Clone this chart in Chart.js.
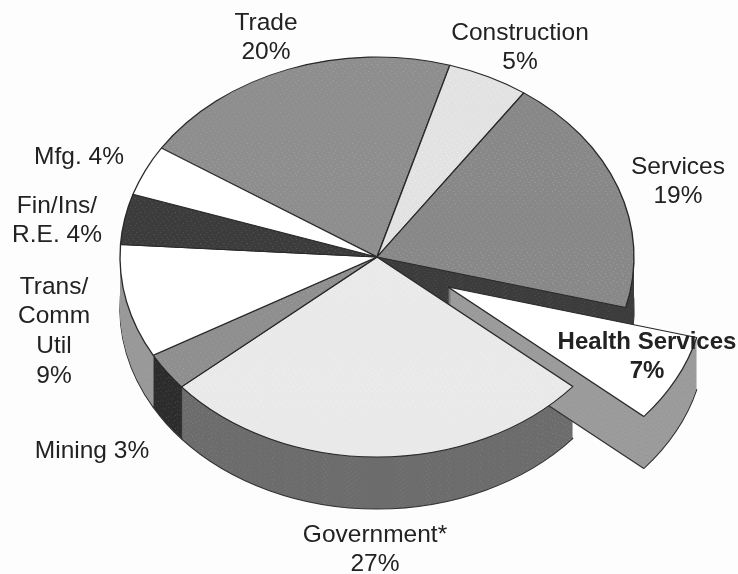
<!DOCTYPE html>
<html>
<head>
<meta charset="utf-8">
<title>Employment by sector</title>
<script src="https://cdn.jsdelivr.net/npm/chart.js@4"></script>
<style>
  html, body { margin: 0; padding: 0; background: #fdfdfd; }
  #pie { display: block; filter: blur(0.6px); }
</style>
</head>
<body>
<canvas id="pie" width="738" height="574"></canvas>
<script>
const categories = ['Trade', 'Construction', 'Services', 'Health Services', 'Government*', 'Mining', 'Trans/Comm/Util', 'Fin/Ins/R.E.', 'Mfg.'];
const values = [20, 5, 19, 7, 27, 3, 9, 4, 4];
const exploded = [false, false, false, true, false, false, false, false, false];

const topColors = ['#8e8e8e', '#e2e2e2', '#888888', '#ffffff', '#e9e9e9', '#8f8f8f', '#ffffff', '#3c3c3c', '#ffffff'];
const wallColors = ['#6a6a6a', '#a8a8a8', '#3c3c3c', '#9c9c9c', '#6c6c6c', '#2c2c2c', '#9a9a9a', '#222222', '#999999'];

const labelLines = [
  ['Trade', '20%'],
  ['Construction', '5%'],
  ['Services', '19%'],
  ['Health Services', '7%'],
  ['Government*', '27%'],
  ['Mining 3%'],
  ['Trans/', 'Comm', 'Util', '9%'],
  ['Fin/Ins/', 'R.E. 4%'],
  ['Mfg. 4%']
];
const labelX = [266, 520, 678, 647, 375, 92, 54, 57, 79];
const labelY = [23, 33, 167, 342, 535, 451, 287, 206, 157];

// the flattened pie on the page
const centerX = 377, centerY = 257;
const radiusX = 257, radiusY = 200;
const depth = 52;
const explodeX = 71, explodeY = 30;

// scanned halftone look, light dots on a flat colour
function speckle(color, dot) {
  const tile = document.createElement('canvas');
  tile.width = tile.height = 13;
  const c = tile.getContext('2d');
  c.fillStyle = color;
  c.fillRect(0, 0, 13, 13);
  c.fillStyle = dot;
  [[1, 2], [6, 1], [10, 4], [3, 7], [8, 8], [12, 11], [5, 11]].forEach(p => c.fillRect(p[0], p[1], 1, 1));
  return c.createPattern(tile, 'repeat');
}

const fills = topColors.map((color, i) => {
  if (color === '#ffffff') return color;
  return speckle(color, i === 7 ? '#6a6a6a' : (color > '#c' ? '#f4f4f4' : '#a6a6a6'));
});
const walls = wallColors.map(color => speckle(color, color < '#5' ? '#5c5c5c' : '#8e8e8e'));

const pie3d = {
  id: 'pie3d',
  beforeDatasetsDraw(chart) {
    const ctx = chart.ctx;
    const arcs = chart.getDatasetMeta(0).data;
    const r = arcs[0].outerRadius;

    const paint = (arc, i, options, shift) => {
      const ghost = Object.create(arc);
      ghost.options = { ...arc.options, ...options };
      ctx.save();
      ctx.translate(centerX + (exploded[i] ? explodeX : 0), centerY + shift + (exploded[i] ? explodeY : 0));
      ctx.scale(radiusX / r, radiusY / r);
      ctx.translate(-arc.x, -arc.y);
      ghost.draw(ctx);
      ctx.restore();
    };

    const drawWalls = (group) => {
      for (let d = depth; d > 0; d--) {
        arcs.forEach((arc, i) => {
          if (exploded[i] !== group) return;
          // slide the dots along each layer or they line up as vertical stripes
          walls[i].setTransform(new DOMMatrix().translate(d * 5, 0));
          const edge = d === depth ? { borderWidth: 1.5, borderColor: '#333' } : { borderWidth: 0 };
          paint(arc, i, { backgroundColor: walls[i], ...edge }, d);
        });
      }
    };

    drawWalls(false);
    drawWalls(true);
    arcs.forEach((arc, i) => paint(arc, i, {}, 0));
    return false;
  },
  afterDraw(chart) {
    const ctx = chart.ctx;
    ctx.save();
    ctx.textAlign = 'center';
    ctx.textBaseline = 'middle';
    ctx.fillStyle = '#222';
    labelLines.forEach((lines, i) => {
      ctx.font = (exploded[i] ? 'bold 24px' : '24.5px') + ' "Liberation Sans", Arial, sans-serif';
      lines.forEach((line, j) => ctx.fillText(line, labelX[i], labelY[i] + j * 29.7));
    });
    ctx.restore();
  }
};

new Chart(document.getElementById('pie'), {
  type: 'pie',
  data: {
    labels: categories,
    datasets: [{
      data: values,
      backgroundColor: fills,
      borderColor: '#2a2a2a',
      borderWidth: 1.5
    }]
  },
  options: {
    responsive: false,
    animation: false,
    rotation: -57,
    plugins: {
      legend: { display: false },
      tooltip: { enabled: false }
    }
  },
  plugins: [pie3d]
});
</script>
</body>
</html>
